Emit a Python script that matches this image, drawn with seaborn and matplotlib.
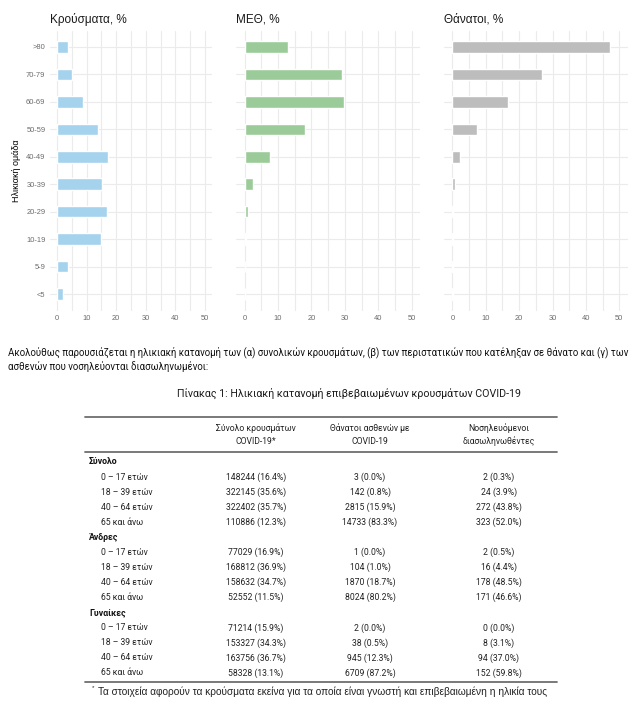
import pandas as pd
import matplotlib.pyplot as plt
import seaborn as sns
import numpy as np

# --- Data: age distribution (%) ---
age_groups = ['>80', '70-79', '60-69', '50-59', '40-49', '30-39', '20-29', '10-19', '5-9', '<5']
cases_pct_by_age = [3.6, 5.0, 8.7, 13.8, 17.2, 15.1, 16.8, 14.8, 3.6, 1.9]
icu_pct_by_age = [13.0, 29.1, 29.7, 18.1, 7.6, 2.5, 1.0, 0.3, 0.1, 0.1]
deaths_pct_by_age = [47.2, 26.8, 16.7, 7.4, 2.3, 0.7, 0.3, 0.1, 0.05, 0.1]

panel_titles = ['Κρούσματα, %', 'ΜΕΘ, %', 'Θάνατοι, %']
panel_colors = ['#a5d2ec', '#9bcb98', '#bdbdbd']

# --- Data: table ---
table_title = 'Πίνακας 1: Ηλικιακή κατανομή επιβεβαιωμένων κρουσμάτων COVID-19'
col_headers = [['Σύνολο κρουσμάτων', 'COVID-19*'],
               ['Θάνατοι ασθενών με', 'COVID-19'],
               ['Νοσηλευόμενοι', 'διασωληνωθέντες']]
groups = ['Σύνολο', 'Άνδρες', 'Γυναίκες']
age_rows = ['0 – 17 ετών', '18 – 39 ετών', '40 – 64 ετών', '65 και άνω']
cases = [[148244, 322145, 322402, 110886], [77029, 168812, 158632, 52552], [71214, 153327, 163756, 58328]]
cases_pct = [[16.4, 35.6, 35.7, 12.3], [16.9, 36.9, 34.7, 11.5], [15.9, 34.3, 36.7, 13.1]]
deaths = [[3, 142, 2815, 14733], [1, 104, 1870, 8024], [2, 38, 945, 6709]]
deaths_pct = [[0.0, 0.8, 15.9, 83.3], [0.0, 1.0, 18.7, 80.2], [0.0, 0.5, 12.3, 87.2]]
intubated = [[2, 24, 272, 323], [2, 16, 178, 171], [0, 8, 94, 152]]
intubated_pct = [[0.3, 3.9, 43.8, 52.0], [0.5, 4.4, 48.5, 46.6], [0.0, 3.1, 37.0, 59.8]]

intro_text = ['Ακολούθως παρουσιάζεται η ηλικιακή κατανομή των (α) συνολικών κρουσμάτων, (β) των περιστατικών που κατέληξαν σε θάνατο και (γ) των',
              'ασθενών που νοσηλεύονται διασωληνωμένοι:']
footnote = 'Τα στοιχεία αφορούν τα κρούσματα εκείνα για τα οποία είναι γνωστή και επιβεβαιωμένη η ηλικία τους'

sns.set_theme(style="whitegrid")
plt.rcParams['font.family'] = ['Liberation Sans', 'DejaVu Sans']

W, H = 640, 719
fig = plt.figure(figsize=(W / 100, H / 100), dpi=100)
fig.patch.set_facecolor('white')


def fx(px):
    return px / W


def fy(py):
    return 1 - py / H


df = pd.DataFrame({'age': age_groups,
                   'cases': cases_pct_by_age,
                   'icu': icu_pct_by_age,
                   'deaths': deaths_pct_by_age})

# axes boxes in pixels (left, right); shared top/bottom
boxes = [(49.6, 212.4), (236.3, 420.0), (444.0, 627.7)]
top_px, bot_px = 30.5, 310.5
for i, (col, (l, r)) in enumerate(zip(['cases', 'icu', 'deaths'], boxes)):
    ax = fig.add_axes([fx(l), fy(bot_px), (r - l) / W, (bot_px - top_px) / H])
    sns.barplot(data=df, x=col, y='age', order=age_groups, color=panel_colors[i],
                width=0.42, errorbar=None, saturation=1, ax=ax, zorder=2)
    ax.set_facecolor('white')
    ax.set_xlim(-2.5, 52.5)
    ax.set_ylim(9.6, -0.6)
    ax.set_xticks(range(0, 51, 10))
    ax.set_xticks(range(5, 51, 10), minor=True)
    ax.grid(True, which='major', color='#ebebeb', linewidth=0.8)
    ax.grid(True, which='minor', axis='x', color='#ebebeb', linewidth=0.8)
    ax.set_axisbelow(True)
    for s in ax.spines.values():
        s.set_visible(False)
    ax.tick_params(axis='both', which='both', length=0, labelsize=5.4, labelcolor='#6b6b6b', pad=3)
    ax.set_xlabel('')
    if i == 0:
        ax.set_ylabel('Ηλικιακή ομάδα', fontsize=6.5, color='black', labelpad=4)
    else:
        ax.set_ylabel('')
        ax.set_yticklabels([])
    fig.text(fx(l), fy(19), panel_titles[i], fontsize=8.5, ha='left', va='center', color='#1a1a1a')

# --- Text and table ---
tfont = ['Roboto', 'DejaVu Sans']
fig.text(fx(8), fy(352), intro_text[0], fontsize=6.9, family=tfont, va='center', ha='left', color='#111111')
fig.text(fx(8), fy(367), intro_text[1], fontsize=6.9, family=tfont, va='center', ha='left', color='#111111')
fig.text(fx(349), fy(393), table_title, fontsize=7.7, family=tfont, va='center', ha='center', color='#1a1a1a')

rule_kw = dict(color='#6e6e6e', linewidth=1.3)
for yy in [417, 452, 682]:
    fig.add_artist(plt.Line2D([fx(85), fx(557)], [fy(yy), fy(yy)], **rule_kw))

col_x = [256, 370, 499]
for cx, hdr in zip(col_x, col_headers):
    fig.text(fx(cx), fy(428), hdr[0], fontsize=6.2, family=tfont, ha='center', va='center', color='#222222')
    fig.text(fx(cx), fy(441), hdr[1], fontsize=6.2, family=tfont, ha='center', va='center', color='#222222')

step = 15.07
row_y = 462
for g, grp in enumerate(groups):
    fig.text(fx(89), fy(row_y), grp, fontsize=6.3, family=tfont, fontweight='bold', ha='left', va='center', color='#111111')
    row_y += step
    for r, lab in enumerate(age_rows):
        fig.text(fx(101), fy(row_y), lab, fontsize=6.2, family=tfont, ha='left', va='center', color='#222222')
        vals = [f'{cases[g][r]} ({cases_pct[g][r]:.1f}%)',
                f'{deaths[g][r]} ({deaths_pct[g][r]:.1f}%)',
                f'{intubated[g][r]} ({intubated_pct[g][r]:.1f}%)']
        for cx, v in zip(col_x, vals):
            fig.text(fx(cx), fy(row_y), v, fontsize=6.2, family=tfont, ha='center', va='center', color='#222222')
        row_y += step

fig.text(fx(92), fy(688), '*', fontsize=4.5, ha='left', va='center', color='#222222')
fig.text(fx(98), fy(692), footnote, fontsize=7.3, ha='left', va='center', color='#222222')

fig.savefig('out.png', dpi=100)
